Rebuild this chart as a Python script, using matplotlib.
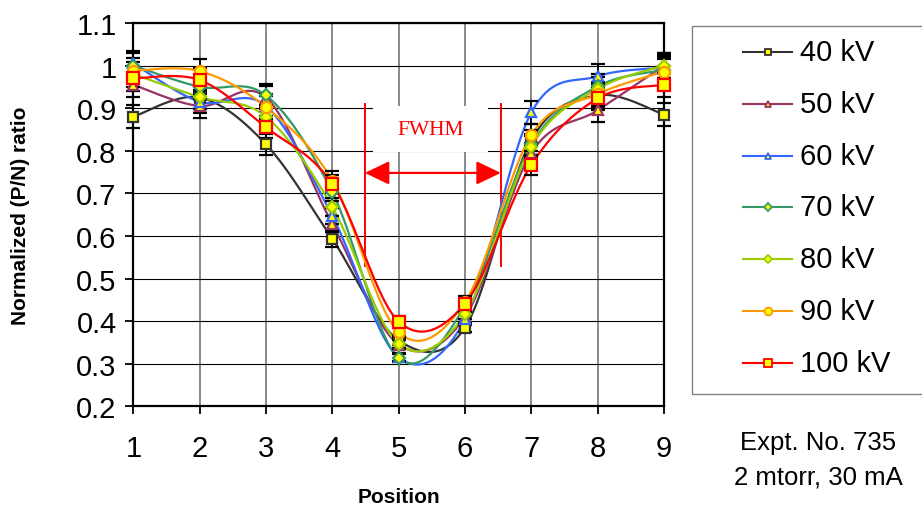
import matplotlib
matplotlib.use("Agg")
import matplotlib.pyplot as plt
import numpy as np
from matplotlib.patches import Rectangle, FancyArrowPatch
from matplotlib.lines import Line2D

plt.rcParams['font.family'] = ['Liberation Sans', 'DejaVu Sans']

positions = [1, 2, 3, 4, 5, 6, 7, 8, 9]
labels = ['40 kV', '50 kV', '60 kV', '70 kV', '80 kV', '90 kV', '100 kV']
kv40 = [0.88, 0.925, 0.815, 0.593, 0.355, 0.385, 0.825, 0.93, 0.885]
kv50 = [0.955, 0.905, 0.925, 0.628, 0.345, 0.41, 0.795, 0.895, 1.0]
kv60 = [1.005, 0.915, 0.905, 0.647, 0.315, 0.404, 0.89, 0.975, 0.995]
kv70 = [1.0, 0.95, 0.93, 0.703, 0.313, 0.435, 0.815, 0.951, 0.99]
kv80 = [0.98, 0.926, 0.88, 0.668, 0.347, 0.417, 0.81, 0.945, 1.0]
kv90 = [0.988, 0.987, 0.902, 0.73, 0.374, 0.445, 0.837, 0.933, 0.986]
kv100 = [0.97, 0.966, 0.855, 0.722, 0.399, 0.441, 0.767, 0.923, 0.955]
series = [kv40, kv50, kv60, kv70, kv80, kv90, kv100]
err_pct = 0.03  # percentage error bars

colors = ['#333333', '#993366', '#3366ff', '#339966', '#99cc00', '#ff9900', '#ff0000']
markers = ['s', '^', '^', 'D', 'D', 'o', 's']
msizes = [7, 7, 7, 6, 6, 8, 8]


def smooth(x, y, n=30):
    # excel style smoothed line (bezier through the points)
    p = np.column_stack([x, y]).astype(float)
    out = []
    for i in range(len(p) - 1):
        p0 = p[i - 1] if i > 0 else p[i]
        p1, p2 = p[i], p[i + 1]
        p3 = p[i + 2] if i + 2 < len(p) else p[i + 1]
        c1 = p1 + (p2 - p0) / 6
        c2 = p2 - (p3 - p1) / 6
        t = np.linspace(0, 1, n)[:, None]
        seg = (1 - t) ** 3 * p1 + 3 * (1 - t) ** 2 * t * c1 + 3 * (1 - t) * t ** 2 * c2 + t ** 3 * p2
        out.append(seg)
    out = np.vstack(out)
    return out[:, 0], out[:, 1]


fig = plt.figure(figsize=(9.22, 5.06), dpi=100)
ax = fig.add_axes([0.1446, 0.195, 0.5756, 0.7576])

for i, vals in enumerate(series):
    sx, sy = smooth(positions, vals)
    ax.plot(sx, sy, color=colors[i], lw=1.6, zorder=3)
    v = np.array(vals)
    eb = ax.errorbar(positions, vals, yerr=v * err_pct, fmt='none', ecolor='black',
                     elinewidth=1.3, capsize=5, capthick=1.6, zorder=4)
    for a in eb.lines[1] + eb.lines[2]:
        a.set_clip_on(False)
    ax.plot(positions, vals, ls='none', marker=markers[i], ms=msizes[i],
            mfc='#ffff00', mec=colors[i], mew=1.6, zorder=5, clip_on=False)

ax.set_xlim(1, 9)
ax.set_ylim(0.2, 1.1)
ax.set_xticks(positions)
ax.set_yticks(np.round(np.arange(0.2, 1.11, 0.1), 1))
ax.set_yticklabels(['0.2', '0.3', '0.4', '0.5', '0.6', '0.7', '0.8', '0.9', '1', '1.1'])
ax.tick_params(labelsize=21, length=6, width=1.3, direction='out')
ax.tick_params(axis='x', pad=14)
ax.tick_params(axis='y', pad=6)
for s in ax.spines.values():
    s.set_linewidth(1.6)
    s.set_color('black')
ax.grid(axis='y', color='black', lw=0.8, zorder=0)
ax.grid(axis='x', color='#808080', lw=1.3, zorder=0)
ax.set_axisbelow(True)
ax.set_xlabel('Position', fontsize=15, fontweight='bold', labelpad=18)
ax.set_ylabel('Normalized (P/N) ratio', fontsize=15, fontweight='bold', labelpad=33)

# FWHM annotation
ax.add_patch(Rectangle((4.61, 0.797), 1.74, 0.108, facecolor='white', edgecolor='none', zorder=1))
ax.text(5.48, 0.851, 'FWHM', color='red', fontsize=15.5, family='Liberation Serif',
        ha='center', va='center', zorder=2)
ax.plot([4.49, 4.49], [0.53, 0.91], color='red', lw=1.4, zorder=2)
ax.plot([6.54, 6.54], [0.53, 0.91], color='red', lw=1.4, zorder=2)
ax.add_patch(FancyArrowPatch((4.49, 0.748), (6.54, 0.748),
                             arrowstyle='<|-|>,head_length=1.0,head_width=0.48',
                             mutation_scale=15, color='red', lw=1.6, shrinkA=0, shrinkB=0, zorder=2))

# legend drawn in figure space
fig.patches.append(Rectangle((0.7505, 0.2194), 0.26, 0.7272, transform=fig.transFigure,
                             facecolor='white', edgecolor='#808080', lw=1.0))
leg_y = [53, 105, 157, 208, 260, 312, 364]
for i in range(len(labels)):
    yf = 1 - leg_y[i] / 506
    fig.add_artist(Line2D([743 / 922, 792 / 922], [yf, yf], transform=fig.transFigure,
                          color=colors[i], lw=1.5))
    fig.add_artist(Line2D([768 / 922], [yf], transform=fig.transFigure, marker=markers[i],
                          ms=msizes[i] * 0.7, mfc='#ffff00', mec=colors[i], mew=1.3))
    fig.text(800 / 922, yf, labels[i], fontsize=21, va='center', ha='left')

fig.text(818 / 922, 1 - 443 / 506, 'Expt. No. 735', fontsize=18.5, ha='center', va='center')
fig.text(818 / 922, 1 - 478 / 506, '2 mtorr, 30 mA', fontsize=18.5, ha='center', va='center')

fig.savefig('out.png', dpi=100)
